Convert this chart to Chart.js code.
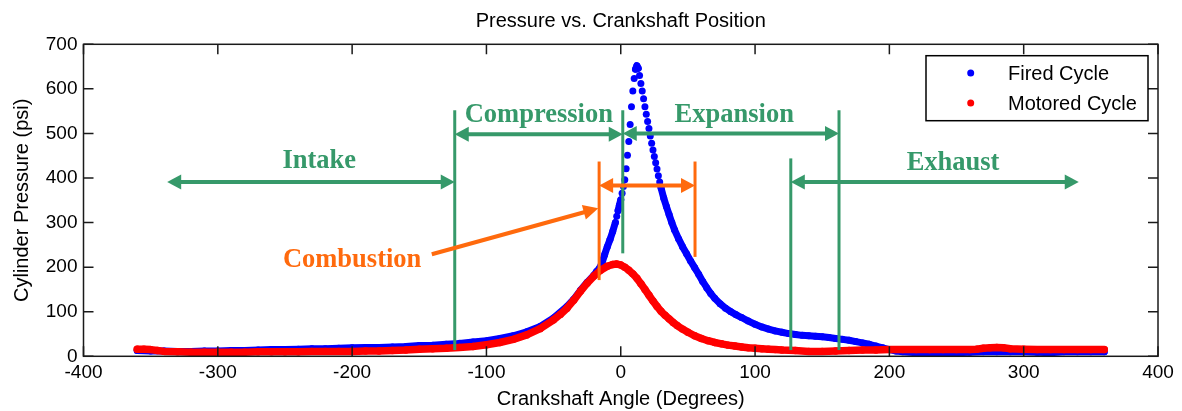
<!DOCTYPE html>
<html>
<head>
<meta charset="utf-8">
<script src="https://cdn.jsdelivr.net/npm/chart.js@4.4.1/dist/chart.umd.min.js"></script>
<style>
  html, body { margin: 0; padding: 0; background: #fff; }
</style>
</head>
<body>
<canvas id="graph" width="1182" height="411"></canvas>
<script>
// fired cycle (degrees, psi)
const firedAngle = [-360, -350, -340, -330, -320, -310, -300, -290, -280, -270, -260, -250, -240, -230, -220, -210,
    -200, -190, -180, -170, -160, -150, -140, -130, -120, -110, -100, -90, -80, -70, -60, -50, -40, -35, -30, -25,
    -20, -18, -16, -14, -12, -10, -8, -6, -4, -3, -2, -1, 0, 1, 2, 3, 4, 5, 6, 7, 8, 9, 10, 11, 12, 13, 14, 15, 16,
    17, 18, 19, 20, 21, 22, 23, 24, 25, 26, 27, 28, 29, 30, 32, 34, 36, 38, 40, 43, 46, 49, 52, 55, 58, 61, 64, 67,
    70, 74, 78, 82, 86, 90, 95, 100, 105, 110, 115, 120, 125, 130, 135, 140, 145, 150, 155, 160, 165, 170, 175, 180,
    185, 190, 195, 200, 205, 210, 220, 230, 240, 250, 260, 270, 280, 290, 300, 310, 320, 330, 340, 350, 360];
const firedPsi = [13, 12, 12, 11, 11, 12, 12, 13, 13, 14, 15, 15, 16, 17, 17, 18,
    19, 20, 20, 21, 22, 24, 25, 27, 29, 32, 35, 40, 46, 55, 67, 86, 112, 128, 148, 166,
    182, 190, 197, 209, 228, 246, 262, 280, 300, 314, 327, 339, 351, 366, 381, 396, 421, 451, 482, 520, 560, 595, 623, 644, 652, 646, 630, 612, 595,
    578, 560, 543, 527, 511, 494, 478, 463, 448, 434, 420, 405, 391, 378, 355, 336, 318, 300, 284, 264, 246, 230, 214, 199, 184, 168, 154, 141,
    130, 118, 108, 100, 93, 87, 79, 72, 66, 61, 57, 54, 51, 49, 47, 46, 45, 44, 42, 40, 38, 36, 33, 30,
    27, 23, 19, 15, 12, 10, 8, 8, 9, 8, 9, 10, 10, 10, 10, 9, 8, 10, 10, 10, 10];

// motored cycle
const motoredAngle = [-360, -355, -350, -345, -340, -330, -320, -310, -300, -290, -280, -270, -260, -250, -240, -230,
    -220, -210, -200, -190, -180, -170, -160, -150, -140, -130, -120, -110, -100, -90, -80, -70, -60, -50, -45, -40,
    -35, -30, -25, -20, -15, -10, -6, -3, 0, 3, 6, 9, 12, 15, 18, 21, 24, 27, 30, 33, 36, 39, 42, 46, 50, 55, 60, 65,
    70, 75, 80, 85, 90, 95, 100, 105, 110, 115, 120, 130, 140, 150, 160, 170, 180, 190, 200, 210, 220, 230, 240, 250,
    260, 265, 270, 275, 280, 285, 290, 300, 310, 320, 330, 340, 350, 360];
const motoredPsi = [16, 16, 15, 13, 11, 10, 9, 9, 9, 9, 9, 10, 10, 10, 10, 11,
    11, 11, 11, 12, 12, 13, 14, 16, 17, 18, 20, 22, 26, 31, 38, 48, 62, 82, 94, 108,
    126, 146, 164, 180, 193, 202, 206, 207, 205, 200, 193, 185, 175, 163, 150, 137, 124, 112, 101, 92, 84, 76, 69, 61, 54, 46, 40, 35,
    31, 28, 25, 23, 21, 19, 18, 17, 16, 15, 14, 13, 11, 11, 12, 13, 14, 14, 15, 15, 15, 15, 15, 15,
    15, 16, 18, 19, 20, 19, 17, 16, 15, 15, 15, 15, 15, 15];

const xTicks = [-400, -300, -200, -100, 0, 100, 200, 300, 400];
const yTicks = [0, 100, 200, 300, 400, 500, 600, 700];

// stroke phases (green), in degrees / psi
const phaseNames = ['Intake', 'Compression', 'Expansion', 'Exhaust'];
const phaseTextX = [-224.5, -61, 84.5, 247.4];
const phaseTextY = [422, 525, 525, 418];
const phaseFrom = [-337.7, -123.6, 1.5, 126.6];
const phaseTo = [-123.6, 1.5, 162.5, 341];
const phaseArrowY = [391, 498, 500, 391];
const markX = [-123.6, 1.5, 162.5, 126.6];
const markTop = [552, 552, 552, 444];
const markBottom = [14, 231, 14, 14];

// combustion (orange)
const combName = 'Combustion';
const combText = [-200, 199.7];
const combMarkX = [-16.1, 55.3];
const combMarkTop = [437, 437];
const combMarkBottom = [171, 223];
const combArrowY = 383;
const combPointerFrom = [-140.7, 229];
const combPointerTo = [-16.7, 332];

const GREEN = '#36996a';
const ORANGE = '#ff6a0d';

function arrowHead(ctx, x, y, dir, len, half) {
    // dir = +1 points right, -1 points left
    ctx.beginPath();
    ctx.moveTo(x, y);
    ctx.lineTo(x - dir * len, y - half);
    ctx.lineTo(x - dir * len, y + half);
    ctx.closePath();
    ctx.fill();
}

function doubleArrow(ctx, x1, x2, y, color) {
    ctx.strokeStyle = color;
    ctx.fillStyle = color;
    ctx.lineWidth = 4;
    ctx.beginPath();
    ctx.moveTo(x1 + 10, y);
    ctx.lineTo(x2 - 10, y);
    ctx.stroke();
    arrowHead(ctx, x1, y, -1, 14, 7.5);
    arrowHead(ctx, x2, y, 1, 14, 7.5);
}

function vLine(ctx, x, y1, y2, color) {
    ctx.strokeStyle = color;
    ctx.lineWidth = 3;
    ctx.beginPath();
    ctx.moveTo(x, y1);
    ctx.lineTo(x, y2);
    ctx.stroke();
}

const framePlugin = {
    id: 'frame',
    afterDatasetsDraw(chart) {
        const ctx = chart.ctx;
        const xs = chart.scales.x, ys = chart.scales.y;
        const area = chart.chartArea;
        ctx.save();

        // phase markers and arrows
        for (let i = 0; i < markX.length; i++) {
            vLine(ctx, xs.getPixelForValue(markX[i]), ys.getPixelForValue(markTop[i]), ys.getPixelForValue(markBottom[i]), GREEN);
        }
        for (let i = 0; i < phaseNames.length; i++) {
            doubleArrow(ctx, xs.getPixelForValue(phaseFrom[i]), xs.getPixelForValue(phaseTo[i]), ys.getPixelForValue(phaseArrowY[i]), GREEN);
        }
        ctx.font = 'bold 26.5px "Liberation Serif", "Times New Roman", serif';
        ctx.textAlign = 'center';
        ctx.textBaseline = 'alphabetic';
        ctx.fillStyle = GREEN;
        for (let i = 0; i < phaseNames.length; i++) {
            ctx.fillText(phaseNames[i], xs.getPixelForValue(phaseTextX[i]), ys.getPixelForValue(phaseTextY[i]));
        }

        // combustion
        for (let i = 0; i < combMarkX.length; i++) {
            vLine(ctx, xs.getPixelForValue(combMarkX[i]), ys.getPixelForValue(combMarkTop[i]), ys.getPixelForValue(combMarkBottom[i]), ORANGE);
        }
        doubleArrow(ctx, xs.getPixelForValue(combMarkX[0]), xs.getPixelForValue(combMarkX[1]), ys.getPixelForValue(combArrowY), ORANGE);
        const px1 = xs.getPixelForValue(combPointerFrom[0]), py1 = ys.getPixelForValue(combPointerFrom[1]);
        const px2 = xs.getPixelForValue(combPointerTo[0]), py2 = ys.getPixelForValue(combPointerTo[1]);
        const ang = Math.atan2(py2 - py1, px2 - px1);
        ctx.lineWidth = 4;
        ctx.beginPath();
        ctx.moveTo(px1, py1);
        ctx.lineTo(px2 - 10 * Math.cos(ang), py2 - 10 * Math.sin(ang));
        ctx.stroke();
        ctx.save();
        ctx.translate(px2, py2);
        ctx.rotate(ang);
        arrowHead(ctx, 0, 0, 1, 15, 7.5);
        ctx.restore();
        ctx.fillText(combName, xs.getPixelForValue(combText[0]), ys.getPixelForValue(combText[1]));

        // box and inward ticks
        ctx.strokeStyle = '#1a1a1a';
        ctx.lineWidth = 1.5;
        ctx.strokeRect(area.left, area.top, area.right - area.left, area.bottom - area.top);
        ctx.beginPath();
        xTicks.forEach(v => {
            const p = xs.getPixelForValue(v);
            ctx.moveTo(p, area.bottom); ctx.lineTo(p, area.bottom - 10);
            ctx.moveTo(p, area.top); ctx.lineTo(p, area.top + 10);
        });
        yTicks.forEach(v => {
            const p = ys.getPixelForValue(v);
            ctx.moveTo(area.left, p); ctx.lineTo(area.left + 10, p);
            ctx.moveTo(area.right, p); ctx.lineTo(area.right - 10, p);
        });
        ctx.stroke();

        // legend
        const bx = area.right - 232, by = area.top + 11.4, bw = 222, bh = 65;
        ctx.fillStyle = '#fff';
        ctx.fillRect(bx, by, bw, bh);
        ctx.strokeStyle = '#000';
        ctx.lineWidth = 1.5;
        ctx.strokeRect(bx, by, bw, bh);
        ctx.font = '20px "Liberation Sans", Arial, sans-serif';
        ctx.textAlign = 'left';
        ctx.textBaseline = 'middle';
        chart.data.datasets.forEach((ds, i) => {
            const ly = by + 17.3 + i * 30;
            ctx.fillStyle = ds.backgroundColor;
            ctx.beginPath();
            ctx.arc(bx + 44.7, ly, 3.5, 0, Math.PI * 2);
            ctx.fill();
            ctx.fillStyle = '#000';
            ctx.fillText(ds.label, bx + 82, ly + 1);
        });
        ctx.restore();
    }
};

function steepGap(ctx) {
    // separate dots where the trace jumps between neighbouring samples
    if (ctx.p1.parsed.x - ctx.p0.parsed.x <= 1 && Math.abs(ctx.p1.parsed.y - ctx.p0.parsed.y) > 12) {
        return 'rgba(0,0,0,0)';
    }
    return undefined;
}

const tickFont = { family: '"Liberation Sans", Arial, sans-serif', size: 19 };
const titleFont = { family: '"Liberation Sans", Arial, sans-serif', size: 20 };

new Chart(document.getElementById('graph'), {
    type: 'scatter',
    data: {
        datasets: [{
            label: 'Fired Cycle',
            data: firedAngle.map((a, i) => ({ x: a, y: firedPsi[i] })),
            showLine: true,
            borderColor: '#0000ff',
            backgroundColor: '#0000ff',
            borderWidth: 7,
            borderCapStyle: 'round',
            borderJoinStyle: 'round',
            pointRadius: 3.5,
            pointBorderWidth: 0,
            segment: { borderColor: steepGap },
            order: 1
        }, {
            label: 'Motored Cycle',
            data: motoredAngle.map((a, i) => ({ x: a, y: motoredPsi[i] })),
            showLine: true,
            borderColor: '#ff0000',
            backgroundColor: '#ff0000',
            borderWidth: 7.5,
            borderCapStyle: 'round',
            borderJoinStyle: 'round',
            pointRadius: 3.7,
            pointBorderWidth: 0,
            segment: { borderColor: steepGap },
            order: 0
        }]
    },
    options: {
        responsive: false,
        animation: false,
        devicePixelRatio: 1,
        layout: { padding: { left: 0, right: 24, top: 0, bottom: 0 } },
        plugins: {
            legend: { display: false },
            tooltip: { enabled: false },
            title: {
                display: true,
                fullSize: false,
                text: 'Pressure vs. Crankshaft Position',
                color: '#000',
                font: { family: '"Liberation Sans", Arial, sans-serif', size: 20, weight: 'normal' },
                padding: { top: 9, bottom: 11.3 }
            }
        },
        scales: {
            x: {
                type: 'linear',
                min: -400,
                max: 400,
                grid: { display: false, drawTicks: false },
                border: { display: false },
                afterBuildTicks: s => { s.ticks = xTicks.map(v => ({ value: v })); },
                afterFit: s => { s.height = 54.7; },
                ticks: { color: '#000', font: tickFont, padding: 5, maxRotation: 0, autoSkip: false },
                title: {
                    display: true,
                    text: 'Crankshaft Angle (Degrees)',
                    color: '#000',
                    font: titleFont,
                    padding: { top: 0, bottom: 0 }
                }
            },
            y: {
                min: 0,
                max: 700,
                grid: { display: false, drawTicks: false },
                border: { display: false },
                afterBuildTicks: s => { s.ticks = yTicks.map(v => ({ value: v })); },
                afterFit: s => { s.width = 83.5; },
                ticks: { color: '#000', font: tickFont, padding: 6, autoSkip: false },
                title: {
                    display: true,
                    text: 'Cylinder Pressure (psi)',
                    color: '#000',
                    font: titleFont,
                    padding: { top: 10, bottom: 0 }
                }
            }
        }
    },
    plugins: [framePlugin]
});
</script>
</body>
</html>
